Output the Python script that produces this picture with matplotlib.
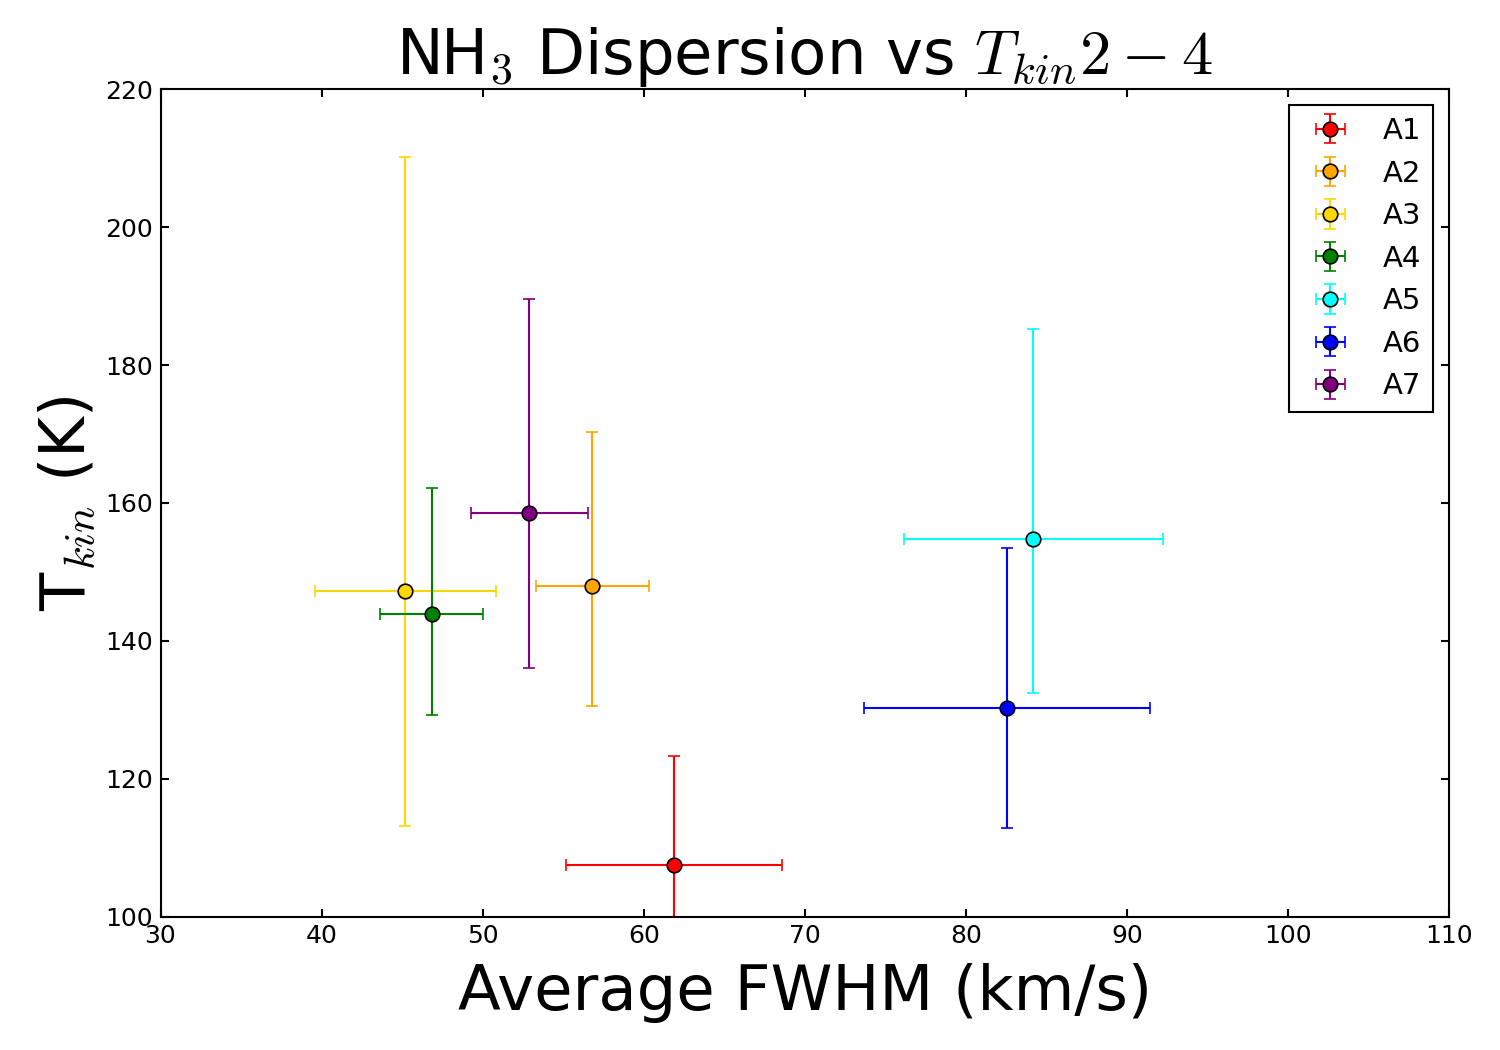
import numpy as np
import matplotlib
matplotlib.use("Agg")
import matplotlib.pyplot as plt

labels = ["A1", "A2", "A3", "A4", "A5", "A6", "A7"]
colors = ["red", "orange", "gold", "green", "cyan", "blue", "purple"]
fwhm = [61.9, 56.8, 45.2, 46.85, 84.2, 82.55, 52.9]
fwhm_err = [6.7, 3.5, 5.6, 3.2, 8.05, 8.9, 3.65]
tkin = [107.5, 148.0, 147.3, 143.9, 154.8, 130.3, 158.5]
tkin_err_lo = [12.2, 17.4, 34.2, 14.6, 22.3, 17.4, 22.5]
tkin_err_hi = [15.8, 22.3, 62.9, 18.2, 30.4, 23.2, 31.1]

plt.rcParams["mathtext.fontset"] = "cm"
plt.rcParams["xtick.direction"] = "in"
plt.rcParams["ytick.direction"] = "in"
plt.rcParams["xtick.top"] = True
plt.rcParams["ytick.right"] = True
plt.rcParams["xtick.major.size"] = 4
plt.rcParams["ytick.major.size"] = 4

fig = plt.figure(figsize=(10, 7), dpi=150)
ax = fig.add_axes([0.107, 0.127, 0.859, 0.788])

for i in range(len(labels)):
    ax.errorbar(fwhm[i], tkin[i], xerr=fwhm_err[i],
                yerr=[[tkin_err_lo[i]], [tkin_err_hi[i]]],
                fmt="o", color=colors[i], ecolor=colors[i], mfc=colors[i],
                mec="black", mew=0.8, ms=7, elinewidth=1, capsize=3,
                label=labels[i])

ax.set_xlim(30, 110)
ax.set_ylim(100, 220)
ax.tick_params(labelsize=12, width=1)
for s in ax.spines.values():
    s.set_linewidth(1)

ax.set_title(r"NH$_3$ Dispersion vs $T_{kin} 2-4$", fontsize=30, pad=3)
ax.set_xlabel("Average FWHM (km/s)", fontsize=30, labelpad=7)
ax.set_ylabel(r"T$_{kin}$ (K)", fontsize=30)

leg = ax.legend(loc="upper right", numpoints=1, fontsize=14, fancybox=False,
                framealpha=1, edgecolor="black", borderaxespad=0.55)
leg.get_frame().set_linewidth(1)

fig.savefig("out.png", dpi=150, facecolor="white")
